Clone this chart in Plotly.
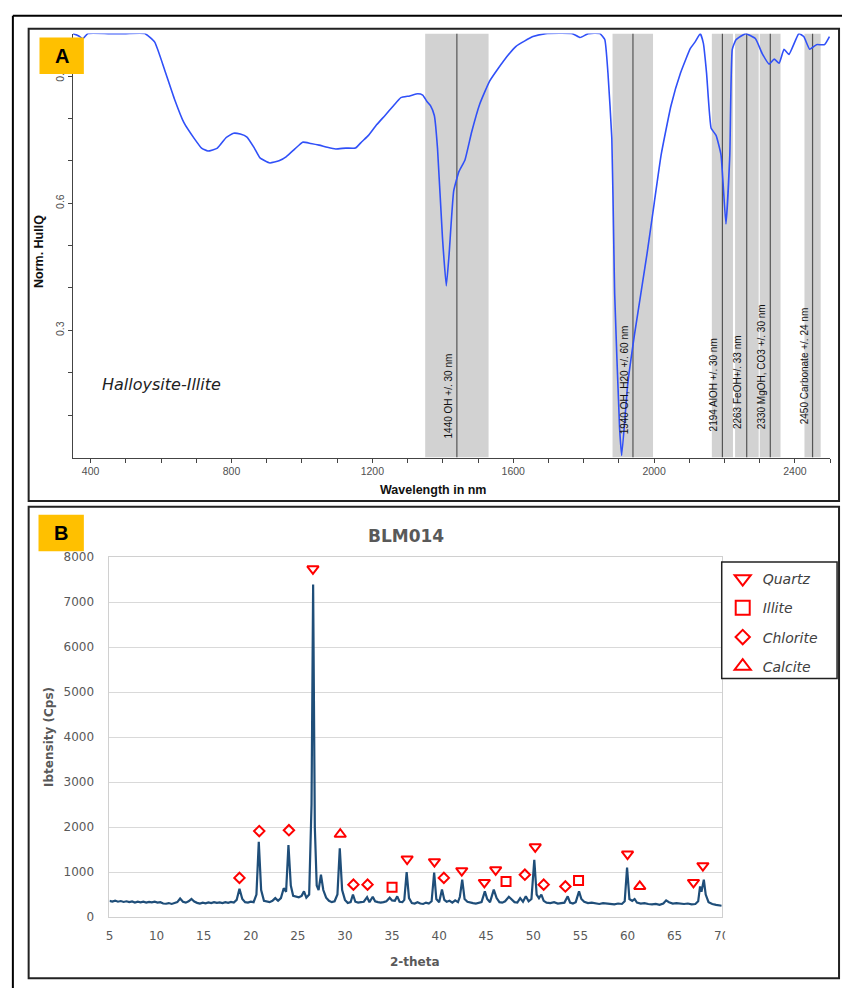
import plotly.graph_objects as go

OFF = 0
FW, FH = 850, 995


def px(x):
    return (x - OFF) / FW


def py(y):
    return 1 - (y - OFF) / FH


# ---------------- Panel A data (reflectance spectrum) ----------------
wavelength = [350, 365, 378, 392, 450, 500, 554, 582, 610, 638, 665, 694, 715, 733, 760, 785,
              806, 825, 844, 865, 881, 909, 935, 956, 980, 1002, 1025, 1049, 1072, 1096, 1125,
              1152, 1170, 1189, 1212, 1236, 1260, 1281, 1306, 1329, 1343, 1355, 1365, 1376,
              1385, 1399, 1410, 1418, 1431, 1446, 1463, 1482, 1505, 1533, 1572, 1608, 1656,
              1692, 1768, 1790, 1813, 1846, 1860, 1869, 1880, 1886, 1888, 1902, 1908, 1925,
              1944, 1980, 2000, 2020, 2048, 2075, 2103, 2117, 2131, 2140, 2149, 2162, 2176,
              2190, 2204, 2215, 2222, 2233, 2260, 2288, 2307, 2327, 2341, 2355, 2369, 2383,
              2411, 2425, 2442, 2461, 2484, 2498]
hullq = [1.0, 0.995, 0.988, 1.0, 1.0, 1.0, 1.0, 0.98, 0.915, 0.846, 0.79, 0.753, 0.73, 0.723,
         0.73, 0.755, 0.765, 0.763, 0.756, 0.73, 0.707, 0.695, 0.70, 0.71, 0.728, 0.744, 0.741,
         0.737, 0.732, 0.728, 0.73, 0.73, 0.745, 0.76, 0.785, 0.807, 0.83, 0.849, 0.853, 0.858,
         0.855, 0.84, 0.83, 0.807, 0.73, 0.52, 0.405, 0.48, 0.629, 0.675, 0.702, 0.768, 0.834,
         0.888, 0.935, 0.97, 0.993, 1.0, 1.0, 0.991, 1.0, 1.0, 0.986, 0.907, 0.753, 0.481,
         0.388, 0.07, 0.005, 0.172, 0.288, 0.481, 0.598, 0.714, 0.83, 0.907, 0.965, 0.981, 1.0,
         0.977, 0.907, 0.777, 0.76, 0.714, 0.551, 0.714, 0.963, 0.986, 1.0, 0.988, 0.953,
         0.928, 0.94, 0.93, 0.963, 0.951, 1.0, 0.993, 0.963, 0.974, 0.974, 0.993]

band_centers = [1440, 1940, 2194, 2263, 2330, 2450]
band_lo = [1350, 1882, 2164, 2230, 2300, 2427]
band_hi = [1530, 1997, 2224, 2297, 2359, 2473]
band_labels = ["1440 OH +/. 30 nm", "1940 OH, H20 +/. 60 nm", "2194 AlOH +/. 30 nm",
               "2263 FeOH+/. 33 nm", "2330 MgOH, CO3 +/. 30 nm", "2450 Carbonate +/. 24 nm"]

a_xtick_vals = [400, 500, 600, 700, 800, 900, 1000, 1100, 1200, 1300, 1400, 1500, 1600, 1700,
                1800, 1900, 2000, 2100, 2200, 2300, 2400, 2500]
a_xtick_text = ["400", "", "", "", "800", "", "", "", "1200", "", "", "", "1600", "", "", "",
                "2000", "", "", "", "2400", ""]
a_ytick_vals = [0.1, 0.2, 0.3, 0.4, 0.5, 0.6, 0.7, 0.8, 0.9]
a_ytick_text = ["", "", "0.3", "", "", "0.6", "", "", "0.9"]

# ---------------- Panel B data (XRD pattern) ----------------
two_theta = [5.0, 5.3, 5.6, 5.9, 6.2, 6.5, 6.8, 7.1, 7.4, 7.7, 8.0, 8.3, 8.6, 8.9, 9.2, 9.5, 9.8,
             10.1, 10.4, 10.7, 11.0, 11.3, 11.6, 11.9, 12.2, 12.5, 12.8, 13.1, 13.4, 13.7, 14.0,
             14.3, 14.6, 14.9, 15.2, 15.5, 15.8, 16.1, 16.4, 16.7, 17.0, 17.3, 17.6, 17.9, 18.2,
             18.5, 18.8, 19.1, 19.4, 19.7, 20.0, 20.3, 20.6, 20.85, 21.1, 21.4, 21.7, 22.0, 22.3,
             22.6, 22.9, 23.2, 23.5, 23.75, 24.0, 24.25, 24.5, 24.8, 25.1, 25.4, 25.65, 25.9,
             26.2, 26.45, 26.62, 26.8, 27.0, 27.2, 27.45, 27.7, 28.0, 28.3, 28.6, 28.9, 29.2,
             29.45, 29.7, 30.0, 30.3, 30.6, 30.85, 31.1, 31.4, 31.7, 32.0, 32.35, 32.6, 32.95,
             33.2, 33.5, 33.8, 34.1, 34.4, 34.75, 35.0, 35.3, 35.55, 35.8, 36.1, 36.3, 36.55,
             36.8, 37.1, 37.4, 37.7, 38.0, 38.3, 38.6, 38.9, 39.2, 39.47, 39.7, 40.0, 40.3,
             40.55, 40.8, 41.1, 41.4, 41.7, 42.0, 42.2, 42.45, 42.7, 43.0, 43.3, 43.6, 43.9,
             44.2, 44.5, 44.85, 45.1, 45.4, 45.8, 46.1, 46.4, 46.7, 47.0, 47.4, 47.7, 48.0,
             48.3, 48.6, 48.9, 49.2, 49.5, 49.8, 50.1, 50.35, 50.6, 50.85, 51.1, 51.4, 51.8,
             52.2, 52.6, 53.0, 53.3, 53.65, 53.9, 54.2, 54.5, 54.85, 55.1, 55.4, 55.8, 56.2,
             56.6, 57.0, 57.4, 57.8, 58.2, 58.6, 59.0, 59.4, 59.7, 59.95, 60.2, 60.5, 60.75,
             61.0, 61.4, 61.8, 62.2, 62.6, 63.0, 63.4, 63.8, 64.1, 64.4, 64.8, 65.2, 65.6, 66.0,
             66.4, 66.8, 67.2, 67.5, 67.7, 67.85, 68.1, 68.3, 68.6, 69.0, 69.4, 69.7, 70.0]
intensity = [360, 345, 365, 340, 355, 335, 350, 330, 345, 320, 340, 325, 340, 320, 335, 325, 340,
             320, 330, 300, 295, 310, 290, 315, 330, 410, 340, 320, 350, 400, 345,
             315, 300, 320, 305, 325, 310, 330, 315, 325, 310, 330, 315, 335, 320,
             380, 630, 400, 330, 320, 340, 330, 500, 1670, 600, 360, 340, 330, 360,
             420, 360, 420, 640, 560, 1600, 700, 470, 460, 440, 470, 570, 430,
             500, 2500, 7390, 2000, 700, 600, 940, 600, 430, 360, 330, 350, 500,
             1530, 600, 380, 310, 330, 500, 340, 320, 330, 340, 440, 330, 450,
             350, 330, 320, 330, 350, 430, 370, 360, 460, 340, 330, 380, 1000,
             420, 310, 300, 330, 300, 290, 320, 300, 350, 990, 400, 330, 610,
             380, 340, 360, 320, 370, 330, 450, 830, 400, 340, 320, 310, 300,
             320, 330, 570, 400, 330, 610, 420, 330, 320, 350, 450, 400, 330,
             320, 420, 340, 460, 350, 400, 1270, 500, 420, 500, 360, 320, 310,
             330, 300, 310, 320, 460, 320, 300, 330, 570, 400, 340, 310, 320,
             300, 290, 310, 300, 290, 280, 300, 290, 350, 1100, 400, 360, 400,
             320, 300, 310, 290, 280, 290, 270, 300, 370, 330, 300, 310, 300, 290,
             300, 280, 290, 350, 680, 560, 830, 500, 330, 290, 270, 260, 250]

quartz_x = [26.6, 36.6, 39.5, 42.4, 44.8, 46.0, 50.2, 60.0, 67.0, 68.0]
quartz_y = [7740, 1290, 1230, 1030, 770, 1050, 1560, 1400, 770, 1140]
illite_x = [35.0, 47.1, 54.8]
illite_y = [660, 790, 810]
chlorite_x = [18.8, 20.9, 24.05, 30.9, 32.4, 40.5, 49.1, 51.1, 53.4]
chlorite_y = [870, 1910, 1930, 720, 720, 870, 940, 720, 680]
calcite_x = [29.5, 61.3]
calcite_y = [1840, 680]

b_xtick_vals = [5, 10, 15, 20, 25, 30, 35, 40, 45, 50, 55, 60, 65, 70]
b_ytick_vals = [0, 1000, 2000, 3000, 4000, 5000, 6000, 7000, 8000]

# ---------------- Figure ----------------
fig = go.Figure()

BLUE_A = "#3050F8"
RED = "#FF0000"
GRAY_TXT = "#595959"
ARIAL = "Arial, Liberation Sans"

fig.add_trace(go.Scatter(x=wavelength, y=hullq, mode="lines",
                         line=dict(color=BLUE_A, width=1.6, shape="spline", smoothing=0.4),
                         xaxis="x", yaxis="y", showlegend=False, hoverinfo="skip"))

fig.add_trace(go.Scatter(x=two_theta, y=intensity, mode="lines",
                         line=dict(color="#1F4E79", width=2.2),
                         xaxis="x2", yaxis="y2", showlegend=False, hoverinfo="skip"))

minerals = [
    ("Quartz", quartz_x, quartz_y, "triangle-down-open", 10, 14),
    ("Illite", illite_x, illite_y, "square-open", 9, 14),
    ("Chlorite", chlorite_x, chlorite_y, "diamond-open", 8, 11),
    ("Calcite", calcite_x, calcite_y, "triangle-up-open", 10, 14),
]
for name, mx, my, sym, s_plot, s_leg in minerals:
    fig.add_trace(go.Scatter(x=mx, y=my, mode="markers", name=name,
                             marker=dict(symbol=sym, size=s_plot, color=RED,
                                         line=dict(color=RED, width=2)),
                             xaxis="x2", yaxis="y2", showlegend=False, hoverinfo="skip"))
    fig.add_trace(go.Scatter(x=[None], y=[None], mode="markers", name=name, legendgroup=name,
                             marker=dict(symbol=sym, size=s_leg, color=RED,
                                         line=dict(color=RED, width=2)),
                             xaxis="x2", yaxis="y2", showlegend=True))

shapes = []
annotations = []

# bands in panel A
for lo, hi in zip(band_lo, band_hi):
    shapes.append(dict(type="rect", xref="x", yref="y", x0=lo, x1=hi, y0=0, y1=1,
                       fillcolor="#D2D2D2", line=dict(width=0), layer="below"))
for c in band_centers:
    shapes.append(dict(type="line", xref="x", yref="y", x0=c, x1=c, y0=0, y1=1,
                       line=dict(color="#555555", width=1.2), layer="below"))

label_y = [0.04, 0.05, 0.058, 0.063, 0.063, 0.074]
for c, t, ly in zip(band_centers, band_labels, label_y):
    annotations.append(dict(x=c, y=ly, xref="x", yref="y", text=t, textangle=-90,
                            showarrow=False, xanchor="right", yanchor="bottom", xshift=-1,
                            font=dict(family=ARIAL, size=10, color="#111111")))


def rect(x0, x1, y0, y1, **kw):
    return dict(type="rect", xref="paper", yref="paper", x0=px(x0), x1=px(x1),
                y0=py(y1), y1=py(y0), layer="above", **kw)


shapes += [
    dict(type="line", xref="paper", yref="paper", x0=px(9), x1=px(9), y0=py(9), y1=py(995),
         line=dict(color="black", width=2), layer="above"),
    dict(type="line", xref="paper", yref="paper", x0=px(9), x1=px(850), y0=py(9), y1=py(9),
         line=dict(color="black", width=2), layer="above"),
    rect(25, 847, 22, 501, line=dict(color="#222222", width=2)),
    rect(25, 847, 507, 985, line=dict(color="#222222", width=2)),
    rect(36, 81, 31, 68, fillcolor="#FFC000", line=dict(width=0)),
    rect(35, 81, 515, 552, fillcolor="#FFC000", line=dict(width=0)),
    # white area right of the XRD plot (clips the last tick label)
    rect(731.5, 845, 928, 960, fillcolor="white", line=dict(width=0)),
    # legend box
    rect(728, 845, 563, 681, fillcolor="white", line=dict(color="#222222", width=1.5)),
]


def ann(x, y, text, size, family, color, angle=0, xa="center", ya="middle"):
    return dict(x=px(x), y=py(y), xref="paper", yref="paper", text=text, showarrow=False,
                textangle=angle, xanchor=xa, yanchor=ya,
                font=dict(family=family, size=size, color=color))


annotations += [
    ann(58.5, 49.5, "<b>A</b>", 20, ARIAL, "black"),
    ann(58, 533.5, "<b>B</b>", 20, ARIAL, "black"),
    ann(97, 383, "<i>Halloysite-Illite</i>", 16, "DejaVu Sans", "#222222", xa="left"),
    ann(436, 490, "<b>Wavelength in nm</b>", 12.5, ARIAL, "#111111"),
    ann(35, 248, "<b>Norm. HullQ</b>", 12.5, ARIAL, "#111111", angle=-90),
    ann(408, 537, "<b>BLM014</b>", 17, "DejaVu Sans", GRAY_TXT),
    ann(417, 969, "<b>2-theta</b>", 12, "DejaVu Sans", GRAY_TXT),
    ann(45, 740, "<b>Ibtensity (Cps)</b>", 12, "DejaVu Sans", GRAY_TXT, angle=-90),
]

fig.update_layout(
    width=FW, height=FH, margin=dict(l=0, r=0, t=0, b=0),
    paper_bgcolor="white", plot_bgcolor="white",
    shapes=shapes, annotations=annotations,
    xaxis=dict(domain=[px(70), px(838)], range=[350, 2500], anchor="y",
               tickvals=a_xtick_vals, ticktext=a_xtick_text, ticks="outside", ticklen=4,
               tickcolor="#444444", showline=True, linecolor="#444444", linewidth=1,
               showgrid=False, zeroline=False,
               tickfont=dict(family=ARIAL, size=10.5, color="#505050")),
    yaxis=dict(domain=[py(457), py(27)], range=[0, 1], anchor="x",
               tickvals=a_ytick_vals, ticktext=a_ytick_text, ticks="outside", ticklen=4,
               tickcolor="#444444", showline=True, linecolor="#444444", linewidth=1,
               showgrid=False, zeroline=False, tickangle=-90,
               tickfont=dict(family=ARIAL, size=10.5, color="#505050")),
    xaxis2=dict(domain=[px(107), px(728)], range=[5, 70], anchor="y2",
                tickvals=b_xtick_vals, ticks="", showline=True, mirror=True,
                linecolor="#D0D0D0", linewidth=1, showgrid=False, zeroline=False,
                ticklabelstandoff=8,
                tickfont=dict(family="DejaVu Sans", size=12, color=GRAY_TXT)),
    yaxis2=dict(domain=[py(923), py(558)], range=[0, 8000], anchor="x2",
                tickvals=b_ytick_vals, ticks="", showline=True, mirror=True,
                linecolor="#D0D0D0", linewidth=1, showgrid=True, gridcolor="#D9D9D9",
                gridwidth=1.2, zeroline=False, ticklabelstandoff=12,
                tickfont=dict(family="DejaVu Sans", size=12, color=GRAY_TXT)),
    legend=dict(x=px(729), y=py(564), xanchor="left", yanchor="top",
                borderwidth=0, bgcolor="rgba(0,0,0,0)",
                traceorder="grouped", tracegroupgap=8,
                font=dict(family="DejaVu Sans", size=14, style="italic", color="#404040")),
)

fig.write_html("out.html")
